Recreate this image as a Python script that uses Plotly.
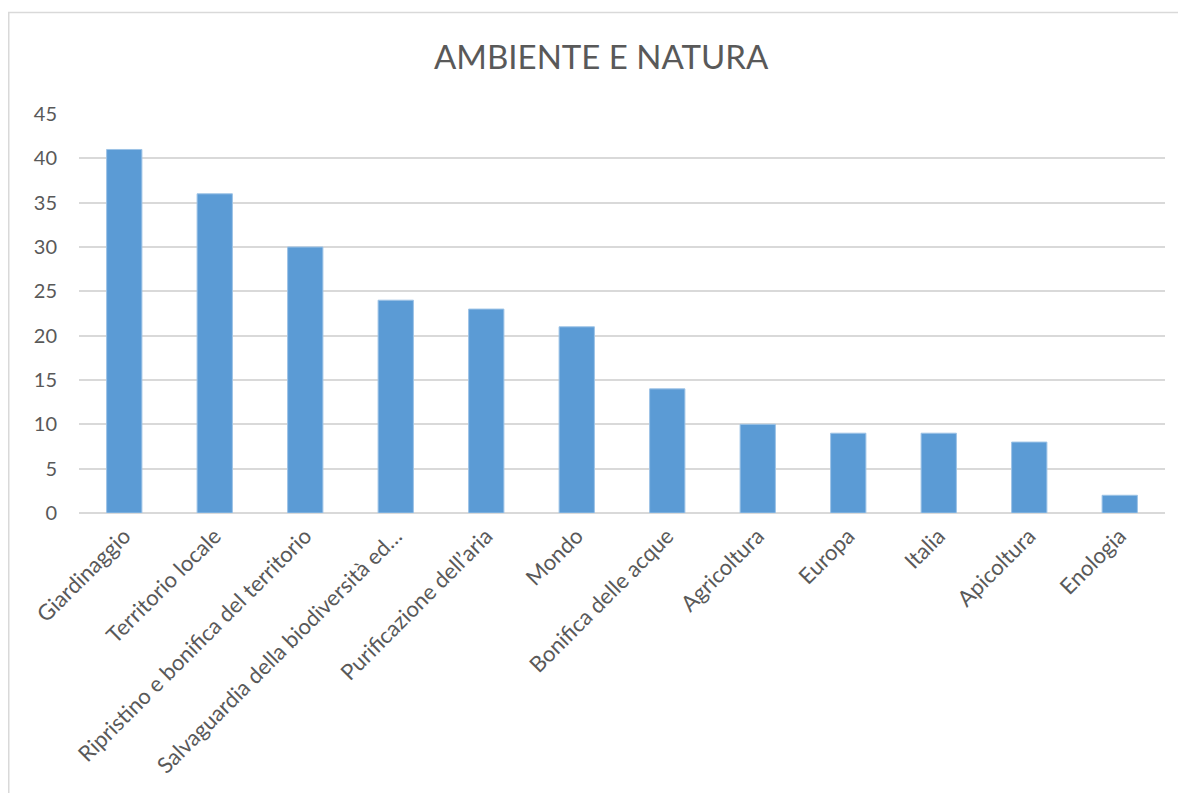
import plotly.graph_objects as go

categories = ["Giardinaggio", "Territorio locale", "Ripristino e bonifica del territorio",
              "Salvaguardia della biodiversità ed…", "Purificazione dell’aria", "Mondo",
              "Bonifica delle acque", "Agricoltura", "Europa", "Italia", "Apicoltura", "Enologia"]
values = [41, 36, 30, 24, 23, 21, 14, 10, 9, 9, 8, 2]
y_ticks = [0, 5, 10, 15, 20, 25, 30, 35, 40, 45]

FONT = "Lato"
TXT = "#595959"
GRID = "#D9D9D9"

# page body has an 8px margin; the figure is sized to fit within the viewport
W, H = 1170, 785

fig = go.Figure(go.Bar(
    x=categories, y=values,
    marker=dict(color="#5B9BD5", line=dict(color="#9DC3E6", width=1)),
))

fig.update_layout(
    width=W, height=H,
    paper_bgcolor="white", plot_bgcolor="white",
    margin=dict(l=71, r=13, t=106, b=280, autoexpand=False),
    bargap=0.61,
    showlegend=False,
    title=dict(text="AMBIENTE E NATURA", x=0.507, xanchor="center", y=0.937, yanchor="middle",
               font=dict(family=FONT, size=33, color=TXT)),
    font=dict(family=FONT, color=TXT),
    shapes=[dict(type="rect", xref="paper", yref="paper",
                 x0=-0.0647, x1=1.2, y0=-1.0, y1=1.2544,
                 line=dict(color=GRID, width=1.5), fillcolor="rgba(0,0,0,0)", layer="below")],
)
fig.update_yaxes(range=[0, 45], tickvals=y_ticks, showgrid=True, gridcolor=GRID, gridwidth=1.5,
                 zeroline=True, zerolinecolor=GRID, zerolinewidth=1.5, showline=False,
                 automargin=False,
                 tickfont=dict(family=FONT, size=20, color=TXT), ticklabelstandoff=21)
fig.update_xaxes(tickangle=-45, showgrid=False, showline=False, automargin=False,
                 tickfont=dict(family=FONT, size=22, color=TXT), ticklabelstandoff=5)

fig.write_html("out.html")
